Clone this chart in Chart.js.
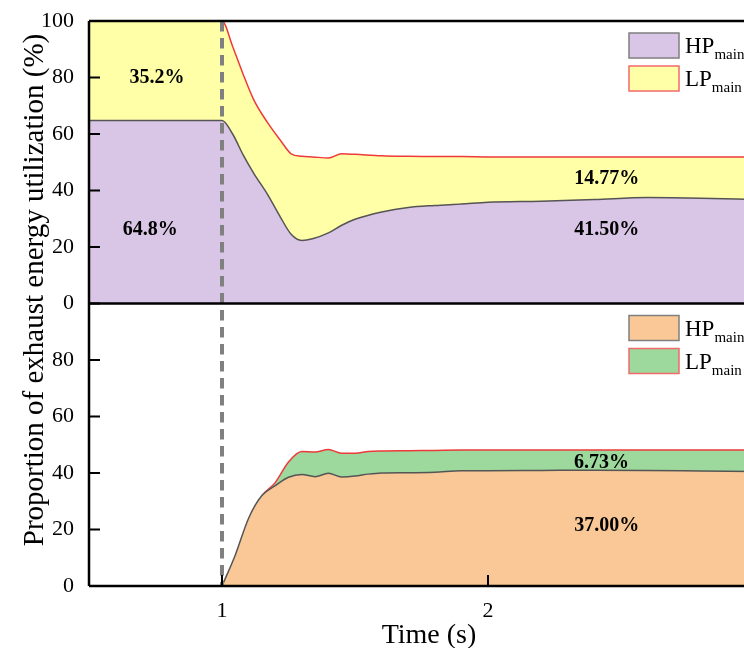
<!DOCTYPE html>
<html>
<head>
<meta charset="utf-8">
<title>Exhaust energy utilization</title>
<script src="https://cdn.jsdelivr.net/npm/chart.js@4.4.1/dist/chart.umd.min.js"></script>
<style>
  html, body { margin: 0; padding: 0; background: #fff; }
  #wrap { width: 744px; height: 648px; overflow: hidden; }
</style>
</head>
<body>
<div id="wrap"><canvas id="myChart" width="780" height="648"></canvas></div>
<script>
'use strict';
// upper panel: main-turbine split of the exhaust energy
const topTime = [0.5, 1.0, 1.04, 1.08, 1.12, 1.17, 1.22, 1.26, 1.3, 1.34, 1.4, 1.45, 1.5, 1.6, 1.7, 1.8, 1.9, 2.0, 2.2, 2.4, 2.6, 2.8, 3.0];
const topHP = [64.8, 64.8, 60, 52.5, 46, 38.8, 30.5, 24.5, 22.3, 22.9, 25, 27.7, 29.8, 32.4, 34, 34.7, 35.2, 35.8, 36.2, 36.8, 37.5, 37.3, 36.8];
const topLP = [35.2, 35.2, 31, 28.5, 26, 25.4, 27.2, 28.5, 29.8, 29, 26.5, 25.3, 23, 19.9, 18.1, 17.3, 16.8, 16.1, 15.7, 15.1, 14.4, 14.6, 15.1];

// lower panel: starts when the valve opens at t = 1 s
const botTime = [1.0, 1.05, 1.1, 1.15, 1.2, 1.25, 1.3, 1.35, 1.4, 1.45, 1.5, 1.55, 1.6, 1.7, 1.8, 1.9, 2.0, 2.2, 2.4, 2.6, 2.8, 3.0];
const botHP = [0, 11, 24, 32, 35.5, 38.5, 39.5, 38.7, 39.9, 38.6, 38.9, 39.6, 40, 40.1, 40.3, 40.8, 40.8, 40.9, 41, 40.9, 40.7, 40.5];
const botLP = [0, 0, 0, 0, 1.1, 5.4, 8.1, 8.7, 8.4, 8.4, 8.1, 8, 7.8, 7.8, 7.7, 7.3, 7.3, 7.2, 7.1, 7.2, 7.4, 7.6];

const xTicks = [1, 2, 3];
const yTicksTop = [0, 20, 40, 60, 80, 100];
const yTicksBottom = [0, 20, 40, 60, 80];

// [text, time, percent]
const pctTop = [
  ['35.2%', 0.756, 80],
  ['64.8%', 0.73, 26.2],
  ['14.77%', 2.446, 44.3],
  ['41.50%', 2.446, 26.2],
];
const pctBottom = [
  ['6.73%', 2.427, 43.5],
  ['37.00%', 2.446, 21.2],
];
const switchTime = 1;

const serif = "'Liberation Serif', 'Times New Roman', serif";
const RED = '#ee3a3a';
const GREY = '#555555';

function pts(xs, ys) {
  return xs.map((x, i) => ({x: x, y: ys[i]}));
}

const tickSet = list => scale => { scale.ticks = list.map(v => ({value: v})); };

const overlay = {
  id: 'overlay',
  afterDatasetsDraw(chart) {
    const ctx = chart.ctx;
    const a = chart.chartArea;
    const x = chart.scales.x;
    const yT = chart.scales.yTop;
    const yB = chart.scales.yBot;
    const rightEdge = chart.width;

    // valve switch marker
    ctx.save();
    ctx.strokeStyle = '#808080';
    ctx.lineWidth = 4;
    ctx.setLineDash([10.5, 6.5]);
    const xs = x.getPixelForValue(switchTime);
    ctx.beginPath();
    ctx.moveTo(xs, a.top);
    ctx.lineTo(xs, a.bottom);
    ctx.stroke();
    ctx.restore();

    // frame
    ctx.save();
    ctx.strokeStyle = '#000';
    ctx.lineWidth = 2.5;
    ctx.beginPath();
    ctx.moveTo(a.left, a.top); ctx.lineTo(rightEdge, a.top);
    ctx.moveTo(a.left, yT.bottom); ctx.lineTo(rightEdge, yT.bottom);
    ctx.moveTo(a.left, a.bottom); ctx.lineTo(rightEdge, a.bottom);
    ctx.moveTo(a.left, a.top); ctx.lineTo(a.left, a.bottom);
    ctx.stroke();

    // inward tick marks
    ctx.lineWidth = 2;
    ctx.beginPath();
    [yT, yB].forEach(s => {
      s.ticks.forEach(t => {
        const py = s.getPixelForValue(t.value);
        ctx.moveTo(a.left, py); ctx.lineTo(a.left + 11, py);
      });
    });
    x.ticks.forEach(t => {
      const px = x.getPixelForValue(t.value);
      ctx.moveTo(px, a.bottom); ctx.lineTo(px, a.bottom - 11);
    });
    ctx.stroke();
    ctx.restore();

    // legends, one per panel
    const drawLegend = (top, items) => {
      items.forEach((it, i) => {
        const bx = a.right - 125;
        const by = top + 12 + i * 33;
        ctx.save();
        ctx.fillStyle = it.fill;
        ctx.fillRect(bx, by, 50, 25);
        ctx.strokeStyle = it.edge;
        ctx.lineWidth = 1.5;
        ctx.strokeRect(bx, by, 50, 25);
        ctx.fillStyle = '#000';
        ctx.textBaseline = 'alphabetic';
        ctx.textAlign = 'left';
        ctx.font = '23px ' + serif;
        ctx.fillText(it.main, bx + 56, by + 20);
        const w = ctx.measureText(it.main).width;
        ctx.font = '15px ' + serif;
        ctx.fillText('main', bx + 56 + w, by + 26);
        ctx.restore();
      });
    };
    const ds = chart.data.datasets;
    drawLegend(yT.top, [
      {main: 'HP', fill: ds[0].backgroundColor, edge: '#7f7f7f'},
      {main: 'LP', fill: ds[1].backgroundColor, edge: '#f26a6a'},
    ]);
    drawLegend(yB.top, [
      {main: 'HP', fill: ds[2].backgroundColor, edge: '#7f7f7f'},
      {main: 'LP', fill: ds[3].backgroundColor, edge: '#f26a6a'},
    ]);

    // share labels
    ctx.save();
    ctx.fillStyle = '#000';
    ctx.font = 'bold 20px ' + serif;
    ctx.textAlign = 'center';
    ctx.textBaseline = 'middle';
    pctTop.forEach(p => ctx.fillText(p[0], x.getPixelForValue(p[1]), yT.getPixelForValue(p[2])));
    pctBottom.forEach(p => ctx.fillText(p[0], x.getPixelForValue(p[1]), yB.getPixelForValue(p[2])));
    ctx.restore();

    // axis titles
    ctx.save();
    ctx.fillStyle = '#000';
    ctx.font = '28px ' + serif;
    ctx.textAlign = 'center';
    ctx.textBaseline = 'alphabetic';
    ctx.fillText('Time (s)', 429, 643);
    ctx.font = '29px ' + serif;
    ctx.translate(43, 290);
    ctx.rotate(-Math.PI / 2);
    ctx.fillText('Proportion of exhaust energy utilization (%)', 0, 0);
    ctx.restore();
  }
};

const yAxis = (ticks, weight) => ({
  type: 'linear',
  position: 'left',
  stack: 'panels',
  stackWeight: 1,
  weight: weight,
  stacked: true,
  min: 0,
  max: 100,
  afterBuildTicks: tickSet(ticks),
  afterFit: s => {
    s.width = 89;
    // labels may overhang the plot edge, the layout padding covers it
    s.paddingTop = 0;
    s.paddingBottom = 0;
  },
  grid: {display: false, drawTicks: false},
  border: {display: false},
  ticks: {color: '#000', padding: 15, font: {family: serif, size: 22}},
});

const ctx = document.getElementById('myChart').getContext('2d');
const chart = new Chart(ctx, {
  type: 'line',
  data: {
    datasets: [
      {
        label: 'HP main',
        data: pts(topTime, topHP),
        yAxisID: 'yTop',
        backgroundColor: '#d9c5e5',
        borderColor: GREY,
        borderWidth: 1.5,
        fill: 'origin',
      },
      {
        label: 'LP main',
        data: pts(topTime, topLP),
        yAxisID: 'yTop',
        backgroundColor: '#ffffa8',
        borderColor: RED,
        borderWidth: 1.5,
        fill: '-1',
      },
      {
        label: 'HP main',
        data: pts(botTime, botHP),
        yAxisID: 'yBot',
        backgroundColor: '#f9c896',
        borderColor: GREY,
        borderWidth: 1.5,
        fill: 'origin',
      },
      {
        label: 'LP main',
        data: pts(botTime, botLP),
        yAxisID: 'yBot',
        backgroundColor: '#9dd89d',
        borderColor: RED,
        borderWidth: 1.5,
        fill: '-1',
        segment: {
          // no red edge while the LP share is still zero
          borderColor: c => (c.p0.parsed.y === 0 && c.p1.parsed.y === 0) ? 'rgba(0,0,0,0)' : RED,
        },
      },
    ]
  },
  options: {
    responsive: false,
    animation: false,
    layout: {padding: {top: 21, right: 26, left: 0, bottom: 0}},
    elements: {
      point: {radius: 0},
      line: {cubicInterpolationMode: 'monotone'},
    },
    plugins: {
      legend: {display: false},
      tooltip: {enabled: false},
    },
    scales: {
      x: {
        type: 'linear',
        min: 0.5,
        max: 3,
        afterBuildTicks: tickSet(xTicks),
        afterFit: s => { s.height = 62; },
        grid: {display: false, drawTicks: false},
        border: {display: false},
        ticks: {color: '#000', padding: 12, font: {family: serif, size: 22}},
      },
      yTop: yAxis(yTicksTop, 2),
      yBot: yAxis(yTicksBottom, 1),
    }
  },
  plugins: [overlay]
});
</script>
</body>
</html>
